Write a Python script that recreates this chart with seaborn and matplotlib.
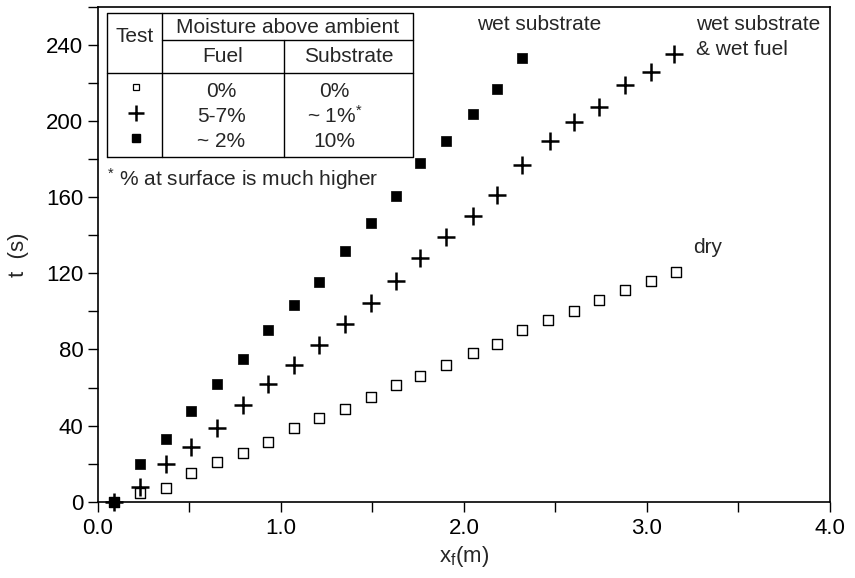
import matplotlib
matplotlib.use("Agg")
import matplotlib.pyplot as plt
import seaborn as sns
import numpy as np
import pandas as pd
from matplotlib.ticker import MultipleLocator, FixedLocator

# ---- data ----
x_dry = [0.09, 0.23, 0.37, 0.51, 0.65, 0.79, 0.93, 1.07, 1.21, 1.35, 1.49, 1.63,
         1.76, 1.90, 2.05, 2.18, 2.32, 2.46, 2.60, 2.74, 2.88, 3.02, 3.16]
t_dry = [0.0, 4.4, 7.1, 14.9, 21.1, 25.8, 31.3, 38.8, 44.1, 48.8, 55.1, 61.5,
         66.2, 72.0, 78.2, 82.8, 90.0, 95.6, 100.4, 105.8, 111.1, 116.2, 120.7]

x_wet_both = [0.09, 0.23, 0.37, 0.51, 0.65, 0.79, 0.93, 1.07, 1.21, 1.35, 1.49, 1.63,
              1.76, 1.90, 2.05, 2.18, 2.32, 2.47, 2.60, 2.74, 2.88, 3.02, 3.15]
t_wet_both = [0.0, 7.6, 19.7, 28.9, 38.6, 50.7, 61.9, 71.6, 82.6, 93.5, 104.4, 116.1,
              128.0, 139.3, 149.9, 161.0, 176.8, 189.5, 199.7, 207.6, 218.8, 225.8, 235.1]

x_wet_sub = [0.09, 0.23, 0.37, 0.51, 0.65, 0.79, 0.93, 1.07, 1.21, 1.35, 1.49, 1.63,
             1.76, 1.90, 2.05, 2.18, 2.32]
t_wet_sub = [0.0, 19.7, 33.0, 47.9, 61.9, 75.2, 90.0, 103.6, 115.5, 131.8, 146.5, 160.9,
             178.2, 189.4, 203.6, 217.1, 233.1]

x_ticks = [0.0, 1.0, 2.0, 3.0, 4.0]
x_tick_labels = ["0.0", "1.0", "2.0", "3.0", "4.0"]
y_ticks = [0, 40, 80, 120, 160, 200, 240]

table_header = ["Test", "Moisture above ambient", "Fuel", "Substrate"]
fuel_col = ["0%", "5-7%", "~ 2%"]
sub_col = ["0%", "~ 1%$^{*}$", "10%"]
footnote = "$^{*}$ % at surface is much higher"

# ---- style ----
sns.set_style("ticks")
plt.rcParams["font.family"] = ["Liberation Sans", "DejaVu Sans"]
plt.rcParams["mathtext.fontset"] = "custom"
plt.rcParams["mathtext.rm"] = "Liberation Sans"
plt.rcParams["mathtext.it"] = "Liberation Sans"
plt.rcParams["mathtext.bf"] = "Liberation Sans:bold"

fig = plt.figure(figsize=(8.55, 5.78), dpi=100)
ax = fig.add_axes([0.1146, 0.132, 0.856, 0.856])

df_dry = pd.DataFrame({"x": x_dry, "t": t_dry})
df_both = pd.DataFrame({"x": x_wet_both, "t": t_wet_both})
df_sub = pd.DataFrame({"x": x_wet_sub, "t": t_wet_sub})

sns.scatterplot(data=df_dry, x="x", y="t", ax=ax, marker="s", s=42,
                facecolor="white", edgecolor="black", linewidth=1.0, zorder=3,
                clip_on=False)
sns.scatterplot(data=df_both, x="x", y="t", ax=ax, marker="+", s=150,
                color="black", linewidth=1.8, zorder=3, clip_on=False)
sns.scatterplot(data=df_sub, x="x", y="t", ax=ax, marker="s", s=50,
                color="black", edgecolor="black", linewidth=0.5, zorder=4,
                clip_on=False)

ax.set_xlim(0, 4.0)
ax.set_ylim(0, 260)
ax.xaxis.set_major_locator(FixedLocator(x_ticks))
ax.set_xticklabels(x_tick_labels)
ax.xaxis.set_minor_locator(MultipleLocator(0.5))
ax.yaxis.set_major_locator(FixedLocator(y_ticks))
ax.yaxis.set_minor_locator(MultipleLocator(20))
ax.tick_params(which="both", direction="out", length=7, width=1.0,
               labelsize=16, colors="black")
ax.tick_params(axis="x", pad=5)
for sp in ax.spines.values():
    sp.set_linewidth(1.2)
    sp.set_color("black")

ax.set_xlabel("x$_{\\rm f}$(m)", fontsize=16, labelpad=3)
ax.set_ylabel("t  (s)", fontsize=16, labelpad=12)

# annotations
ax.text(2.41, 251, "wet substrate", fontsize=15, ha="center", va="center")
ax.text(3.268, 251, "wet substrate", fontsize=15, ha="left", va="center")
ax.text(3.27, 237.5, "& wet fuel", fontsize=15, ha="left", va="center")
ax.text(3.25, 133.5, "dry", fontsize=15, ha="left", va="center")

# ---- table inside the axes (axes-fraction coordinates) ----
T = ax.transAxes
L, R, TOP, BOT = 0.0119, 0.430, 0.988, 0.697
V1, V2 = 0.087, 0.2545
H1, H2 = 0.934, 0.867
lw = 1.0
kw = dict(transform=T, color="black", lw=lw, clip_on=False, zorder=5)
ax.plot([L, R, R, L, L], [BOT, BOT, TOP, TOP, BOT], **kw)
ax.plot([V1, V1], [BOT, TOP], **kw)
ax.plot([V1, R], [H1, H1], **kw)
ax.plot([L, R], [H2, H2], **kw)
ax.plot([V2, V2], [BOT, H1], **kw)

tk = dict(transform=T, fontsize=15, ha="center", va="center", zorder=6)
ax.text((L + V1) / 2, 0.940, table_header[0], **tk)
ax.text((V1 + R) / 2, 0.958, table_header[1], **tk)
ax.text((V1 + V2) / 2, 0.900, table_header[2], **tk)
ax.text((V2 + R) / 2, 0.900, table_header[3], **tk)

row_y = [0.830, 0.779, 0.729]
sym_x = 0.0526
ax.plot([sym_x], [row_y[0] + 0.008], marker="s", ms=5, mfc="white", mec="black",
        mew=0.9, transform=T, clip_on=False, zorder=6, ls="none")
ax.plot([sym_x], [row_y[1] + 0.006], marker="+", ms=12, color="black",
        mew=1.8, transform=T, clip_on=False, zorder=6, ls="none")
ax.plot([sym_x], [row_y[2] + 0.006], marker="s", ms=6, color="black",
        transform=T, clip_on=False, zorder=6, ls="none")
for i in range(3):
    ax.text(0.1685, row_y[i], fuel_col[i], **tk)
    ax.text(0.3235, row_y[i], sub_col[i], **tk)

ax.text(0.013, 0.652, footnote, transform=T, fontsize=15, ha="left",
        va="center", zorder=6)

fig.savefig("out.png", dpi=100)
